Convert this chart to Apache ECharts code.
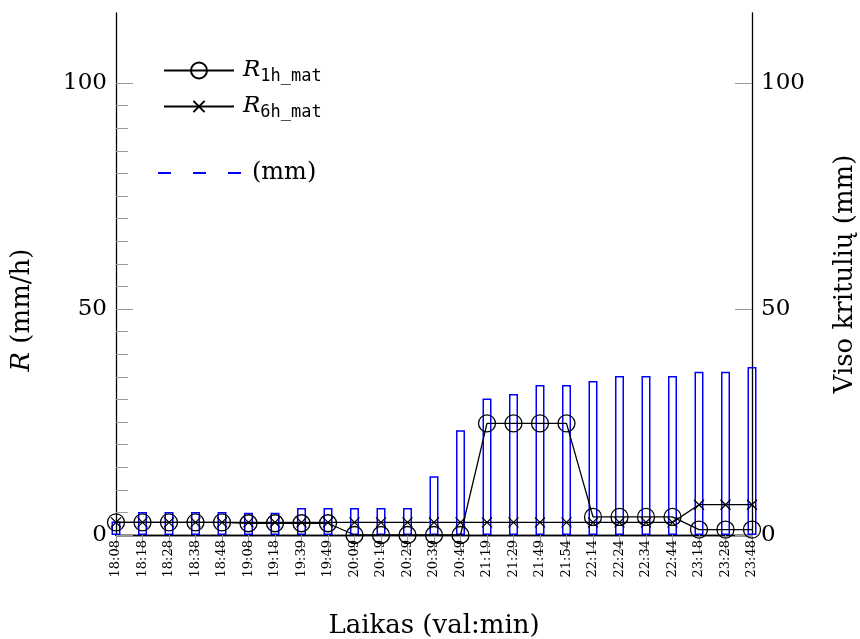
<!DOCTYPE html>
<html>
<head>
<meta charset="utf-8">
<script src="https://cdn.jsdelivr.net/npm/echarts@6/dist/echarts.min.js"></script>
<style>
  html, body { margin: 0; padding: 0; background: #fff; }
  #chart { width: 860px; height: 639px; }
</style>
</head>
<body>
<div id="chart"></div>
<script>
// laiko žymės
const categories = ['18:08', '18:18', '18:28', '18:38', '18:48', '19:08', '19:18', '19:39', '19:49',
  '20:09', '20:19', '20:29', '20:39', '20:49', '21:19', '21:29', '21:49', '21:54',
  '22:14', '22:24', '22:34', '22:44', '23:18', '23:28', '23:48'];
const r1h = [2.8, 2.8, 2.8, 2.8, 2.8, 2.6, 2.6, 2.6, 2.6, 0, 0, 0, 0, 0,
  24.7, 24.7, 24.7, 24.7, 4.0, 4.0, 4.0, 4.0, 1.2, 1.2, 1.2];
const r6h = [2.8, 2.8, 2.8, 2.8, 2.8, 2.8, 2.8, 2.8, 2.8, 2.8, 2.8, 2.8, 2.8, 2.8,
  2.8, 2.8, 2.8, 2.8, 2.8, 2.8, 2.8, 2.8, 6.7, 6.7, 6.7];
const totalMm = [3.0, 5.1, 5.1, 5.1, 5.1, 4.9, 4.9, 6.0, 6.0, 6.0, 6.0, 6.0, 13.0, 23.2,
  30.2, 31.2, 33.2, 33.2, 34.1, 35.2, 35.2, 35.2, 36.1, 36.1, 37.2];
const majorTicks = [0, 50, 100];
const minorTicks = [5, 10, 15, 20, 25, 30, 35, 40, 45, 55, 60, 65, 70, 75, 80, 85, 90, 95];
const yMax = 115.5;

const serif = 'DejaVu Serif';
const grey = '#9a9a9a';
const crossPath = 'path://M0,0L10,10M0,10L10,0';
const dashPath = 'path://M0,0h13v2h-13z M35,0h13v2h-13z M70,0h13v2h-13z';

const legendRich = {
  i: { fontFamily: serif, fontStyle: 'italic', fontSize: 23, lineHeight: 30, color: '#000', padding: [0, 0, 0, 4] },
  s: { fontFamily: 'DejaVu Sans Mono', fontSize: 17, lineHeight: 15, verticalAlign: 'bottom', color: '#000' }
};

const chart = echarts.init(document.getElementById('chart'));

const valueAxis = (pos, name, gap, pad) => ({
  type: 'value',
  position: pos,
  min: 0,
  max: yMax,
  interval: 50,
  name: name,
  nameLocation: 'middle',
  nameRotate: 90,
  nameGap: gap,
  nameTextStyle: {
    fontFamily: serif, fontSize: 26, color: '#000', padding: pad,
    rich: { i: { fontFamily: serif, fontStyle: 'italic', fontSize: 26, color: '#000' } }
  },
  axisLine: { show: true, lineStyle: { color: '#000', width: 1.3 } },
  axisTick: { show: true, inside: true, length: 17, lineStyle: { color: grey, width: 1 }, customValues: majorTicks },
  axisLabel: { fontFamily: serif, fontSize: 23, color: '#000', margin: 9, customValues: majorTicks },
  splitLine: { show: false }
});

const option = {
  animation: false,
  backgroundColor: '#fff',
  grid: { left: 116, right: 108, top: 13, bottom: 104, containLabel: false, outerBoundsMode: 'none' },
  legend: [
    {
      data: ['R1h'], orient: 'vertical', left: 163, top: 59, padding: 0,
      itemWidth: 70, itemHeight: 20, itemGap: 10,
      formatter: () => '{i|R}{s|1h_mat}',
      textStyle: { rich: legendRich }
    },
    {
      data: ['R6h'], orient: 'vertical', left: 163, top: 95, padding: 0,
      itemWidth: 70, itemHeight: 14, itemGap: 10,
      formatter: () => '{i|R}{s|6h_mat}',
      textStyle: { rich: legendRich }
    },
    {
      data: [{ name: '(mm)', icon: dashPath, itemStyle: { color: '#0000ff', borderWidth: 0 } }],
      left: 158, top: 161, padding: 0, symbolKeepAspect: false,
      itemWidth: 83, itemHeight: 2,
      textStyle: { fontFamily: serif, fontSize: 24, color: '#000', padding: [0, 0, 0, 6] }
    }
  ],
  xAxis: [
    {
      type: 'category',
      data: categories,
      boundaryGap: false,
      name: 'Laikas (val:min)',
      nameLocation: 'middle',
      nameGap: 78,
      nameTextStyle: { fontFamily: serif, fontSize: 26, color: '#000' },
      axisLine: { lineStyle: { color: '#000', width: 1.3 } },
      axisTick: { show: false },
      axisLabel: {
        interval: 0, rotate: 90, margin: 5,
        fontFamily: serif, fontSize: 13, color: '#000'
      }
    },
    {
      type: 'category',
      data: categories,
      boundaryGap: false,
      position: 'top',
      axisLine: { show: true, lineStyle: { color: '#000', width: 1.3 } },
      axisTick: { show: true, inside: true, length: 17, interval: 0, lineStyle: { color: grey } },
      axisLabel: { show: false }
    }
  ],
  yAxis: [
    valueAxis('left', '{i|R} (mm/h)', 81, [0, 72, 0, 0]),
    valueAxis('right', 'Viso kritulių (mm)', 80, 0),
    {
      type: 'value', position: 'left', min: 0, max: yMax,
      axisLine: { show: false },
      axisTick: { show: true, inside: true, length: 12, lineStyle: { color: grey }, customValues: minorTicks },
      axisLabel: { show: false },
      splitLine: { show: false }
    }
  ],
  series: [
    {
      name: '(mm)',
      type: 'bar',
      yAxisIndex: 1,
      data: totalMm,
      barWidth: 9,
      clip: true,
      itemStyle: { color: 'rgba(255,255,255,0)', borderColor: '#0000ff', borderWidth: 1.5 }
    },
    {
      name: 'R1h',
      type: 'line',
      data: r1h,
      symbol: 'circle',
      symbolSize: 17,
      showAllSymbol: true,
      lineStyle: { color: '#000', width: 1.3 },
      itemStyle: { color: 'rgba(255,255,255,0)', borderColor: '#000', borderWidth: 1.3 },
      z: 3
    },
    {
      name: 'R6h',
      type: 'line',
      data: r6h,
      symbol: crossPath,
      symbolSize: 10,
      showAllSymbol: true,
      lineStyle: { color: '#000', width: 1.3 },
      itemStyle: { color: 'rgba(255,255,255,0)', borderColor: '#000', borderWidth: 1.3 },
      z: 4
    }
  ]
};

chart.setOption(option);
window.addEventListener('resize', () => chart.resize());
</script>
</body>
</html>
